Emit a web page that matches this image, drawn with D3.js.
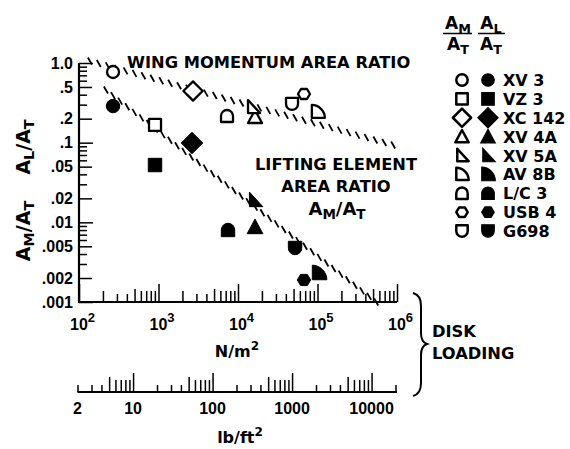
<!DOCTYPE html>
<meta charset="utf-8">
<style>
body { margin: 0; background: #fff; }
text { font-family: "DejaVu Sans", sans-serif; font-weight: bold; fill: #000; }
.num { font-family: "Liberation Sans", Arial, sans-serif; font-weight: bold; font-size: 16px; }
.tick line { stroke: #000; stroke-width: 1.5; }
</style>
<svg width="570" height="449"></svg>
<script src="https://d3js.org/d3.v7.min.js"></script>
<script>

// aircraft, in legend order
var aircraft = ["XV 3", "VZ 3", "XC 142", "XV 4A", "XV 5A", "AV 8B", "L/C 3", "USB 4", "G698"];
var symbols  = ["circle", "square", "diamond", "triangle", "rtriangle", "quarter", "arch", "hexagon", "shield"];

// disk loading (N/m2) and wing momentum area ratio AM/AT  (open symbols)
var loadingM      = [268, 904, 2717, 16370, 15450, 101000, 7274, 67600, 47800];
var momentumRatio = [0.771, 0.167, 0.445, 0.21, 0.28, 0.243, 0.216, 0.408, 0.306];

// disk loading (N/m2) and lifting element area ratio AL/AT  (filled symbols)
var loadingL      = [268, 904, 2638, 16370, 16370, 104500, 7486, 67600, 52200];
var liftingRatio  = [0.288, 0.0524, 0.099, 0.00875, 0.0191, 0.00231, 0.00802, 0.00189, 0.00476];

// dashed trend lines (end points)
var trendMomentumN = [137, 895000];
var trendMomentumR = [1.06, 0.0936];
var trendLiftingN  = [218, 548000];
var trendLiftingR  = [0.458, 0.001];

// tick labels
var yTickValues = [1, 0.5, 0.2, 0.1, 0.05, 0.02, 0.01, 0.005, 0.002, 0.001];
var yTickLabels = ["1.0", ".5", ".2", ".1", ".05", ".02", ".01", ".005", ".002", ".001"];
var xTickValues = [1e2, 1e3, 1e4, 1e5, 1e6];
var xTickExp    = ["2", "3", "4", "5", "6"];
var lbTickValues = [2, 10, 100, 1000, 10000];
var lbPerN = 47.88;   // N/m2 in one lb/ft2

var svg = d3.select("svg");

var x = d3.scaleLog().domain([1e2, 1e6]).range([79, 397]),
    y = d3.scaleLog().domain([0.001, 1]).range([302, 63]),
    xLb = d3.scaleLog().domain([1e2 / lbPerN, 1e6 / lbPerN]).range([79, 397]);

function mant(v) {
  return Math.round(v / Math.pow(10, Math.floor(Math.log10(v) + 1e-9)));
}

// ---- axis ticks, drawn in groups of equal length
function tickGroups(vals, lens, axisFn, scale, transform) {
  var groups = d3.group(vals, function(d) { return lens[mant(d)]; });
  groups.forEach(function(v, len) {
    svg.append("g")
        .attr("transform", transform)
        .call(axisFn(scale).tickValues(v).tickSize(len).tickFormat(""))
        .call(function(g) { g.select(".domain").remove(); });
  });
}

var xLens  = {1: 18, 2: 11, 3: 8, 4: 8, 5: 13, 6: 11, 7: 11, 8: 11, 9: 11};
var yLens  = {1: 14, 2: 13, 3: 8, 4: 8, 5: 13, 6: 8, 7: 8, 8: 8, 9: 8};
var lbLens = {1: 19, 2: 7, 3: 7, 4: 7, 5: 15, 6: 12, 7: 12, 8: 12, 9: 12};

tickGroups(x.ticks(), xLens, d3.axisTop, x, "translate(0,302)");
tickGroups(y.ticks(), yLens, d3.axisRight, y, "translate(79,0)");
tickGroups([2].concat(xLb.ticks()), lbLens, d3.axisTop, xLb, "translate(0,392)");

// axis lines
svg.append("path")
    .attr("d", "M79," + y(1) + "V302H" + x(1e6))
    .attr("fill", "none").attr("stroke", "#000").attr("stroke-width", 2.2);
svg.append("path")
    .attr("d", "M" + xLb(2) + ",392H" + x(1e6))
    .attr("fill", "none").attr("stroke", "#000").attr("stroke-width", 2.2);

// y tick labels
svg.append("g")
    .attr("transform", "translate(79,0)")
    .call(d3.axisLeft(y).tickValues(yTickValues).tickSize(0).tickPadding(6)
      .tickFormat(function(d, i) { return yTickLabels[i]; }))
    .call(function(g) {
      g.select(".domain").remove();
      g.selectAll("text").attr("class", "num").attr("fill", "#000")
        .style("font-family", null).attr("font-family", null).attr("font-size", null);
    });

// x tick labels 10^n
var xl = svg.append("g").selectAll("text")
    .data(xTickValues).enter().append("text")
    .attr("class", "num")
    .attr("x", function(d) { return x(d) - 9; })
    .attr("y", 330)
    .attr("font-size", 17);
xl.append("tspan").text("10");
xl.append("tspan").attr("dy", -8).attr("font-size", 13).text(function(d, i) { return xTickExp[i]; });

// lb/ft2 labels
svg.append("g").selectAll("text")
    .data(lbTickValues).enter().append("text")
    .attr("class", "num")
    .attr("x", function(d) { return xLb(d); })
    .attr("y", 414)
    .attr("text-anchor", "middle")
    .text(function(d) { return d; });

// unit labels
var nm = svg.append("text").attr("x", 237).attr("y", 357).attr("text-anchor", "middle").attr("font-size", 16);
nm.append("tspan").text("N/m");
nm.append("tspan").attr("dy", -7).attr("font-size", 12).text("2");
var lb = svg.append("text").attr("x", 240).attr("y", 443).attr("text-anchor", "middle").attr("font-size", 16);
lb.append("tspan").text("lb/ft");
lb.append("tspan").attr("dy", -7).attr("font-size", 12).text("2");

// subscript helper
function ratio(sel, a, b, size) {
  sel.attr("font-size", size);
  sel.append("tspan").text("A");
  sel.append("tspan").attr("dy", 4).attr("font-size", size * 0.75).text(a);
  if (b) {
    sel.append("tspan").attr("dy", -4).text("/A");
    sel.append("tspan").attr("dy", 4).attr("font-size", size * 0.75).text(b);
  }
}

// rotated y labels
ratio(svg.append("text").attr("transform", "translate(30,147) rotate(-90)").attr("text-anchor", "middle"), "L", "T", 19);
ratio(svg.append("text").attr("transform", "translate(30,231) rotate(-90)").attr("text-anchor", "middle"), "M", "T", 19);

// annotations
svg.append("text").attr("x", 127).attr("y", 68).attr("font-size", 16.3).text("WING MOMENTUM AREA RATIO");
svg.append("text").attr("x", 336).attr("y", 170).attr("font-size", 16.3).attr("text-anchor", "middle").text("LIFTING ELEMENT");
svg.append("text").attr("x", 336).attr("y", 192).attr("font-size", 16.3).attr("text-anchor", "middle").text("AREA RATIO");
ratio(svg.append("text").attr("x", 337).attr("y", 215).attr("text-anchor", "middle"), "M", "T", 18);

svg.append("text").attr("x", 432).attr("y", 337).attr("font-size", 16.3).text("DISK");
svg.append("text").attr("x", 432).attr("y", 359).attr("font-size", 16.3).text("LOADING");

// brace
svg.append("path")
    .attr("d", "M413,293 Q421,295 421,306 L421,333 Q421,342 427,344 Q421,346 421,355 L421,383 Q421,394 413,396")
    .attr("fill", "none").attr("stroke", "#000").attr("stroke-width", 2);

// ---- hatched trend lines
function hatch(ns, rs) {
  var x0 = x(ns[0]), y0 = y(rs[0]), x1 = x(ns[1]), y1 = y(rs[1]);
  var len = Math.hypot(x1 - x0, y1 - y0), n = Math.floor(len / 9);
  var pts = d3.range(n + 1).map(function(i) {
    var t = i / n;
    return [x0 + (x1 - x0) * t, y0 + (y1 - y0) * t];
  });
  svg.append("g").selectAll("line").data(pts).enter().append("line")
      .attr("x1", function(d) { return d[0] - 2; })
      .attr("y1", function(d) { return d[1] - 3.5; })
      .attr("x2", function(d) { return d[0] + 2; })
      .attr("y2", function(d) { return d[1] + 3.5; })
      .attr("stroke", "#000").attr("stroke-width", 1.8);
}
hatch(trendMomentumN, trendMomentumR);
hatch(trendLiftingN, trendLiftingR);

// ---- symbols
var shapes = {
  circle:    "M6,0A6,6 0 1,1 -6,0A6,6 0 1,1 6,0Z",
  square:    "M-6,-6H6V6H-6Z",
  diamond:   "M0,-8L8,0L0,8L-8,0Z",
  triangle:  "M0,-7L7,6L-7,6Z",
  rtriangle: "M-5,-7L7,6L-5,6Z",
  quarter:   "M-6,-7L-6,6L7,6C7,-1 1,-7 -6,-7Z",
  arch:      "M-6,6L-6,0A6,6 0 0,1 6,0L6,6Z",
  hexagon:   "M-6,0L-3,-5L3,-5L6,0L3,5L-3,5Z",
  shield:    "M-6,-6L6,-6L6,0A6,6 0 0,1 -6,0Z"
};
var bigger = {diamond: 1.2};

function marks(xs, ys, filled) {
  svg.append("g").selectAll("path").data(aircraft).enter().append("path")
      .attr("d", function(d, i) { return shapes[symbols[i]]; })
      .attr("transform", function(d, i) {
        var k = (bigger[symbols[i]] || 1) * (filled ? 1.12 : 1);
        return "translate(" + x(xs[i]) + "," + y(ys[i]) + ") scale(" + k + ")";
      })
      .attr("vector-effect", "non-scaling-stroke")
      .attr("fill", filled ? "#000" : "#fff")
      .attr("stroke", "#000")
      .attr("stroke-width", filled ? 1 : 2.3)
      .attr("stroke-linejoin", "round");
}
marks(loadingM, momentumRatio, false);
marks(loadingL, liftingRatio, true);

// ---- legend
ratio(svg.append("text").attr("x", 458).attr("y", 29).attr("text-anchor", "middle"), "M", null, 17);
ratio(svg.append("text").attr("x", 491).attr("y", 29).attr("text-anchor", "middle"), "L", null, 17);
ratio(svg.append("text").attr("x", 458).attr("y", 50).attr("text-anchor", "middle"), "T", null, 17);
ratio(svg.append("text").attr("x", 491).attr("y", 50).attr("text-anchor", "middle"), "T", null, 17);
svg.append("path").attr("d", "M443,33.5H472M478,33.5H505").attr("stroke", "#000").attr("stroke-width", 1.6);

var row = d3.scaleLinear().domain([0, 8]).range([80, 231]);
var lg = svg.append("g").selectAll("g").data(aircraft).enter().append("g")
    .attr("transform", function(d, i) { return "translate(0," + row(i) + ")"; });
lg.append("path")
    .attr("d", function(d, i) { return shapes[symbols[i]]; })
    .attr("transform", function(d, i) { return "translate(462,0) scale(" + (bigger[symbols[i]] || 1) * 0.95 + ")"; })
    .attr("vector-effect", "non-scaling-stroke")
    .attr("fill", "#fff").attr("stroke", "#000").attr("stroke-width", 2.5).attr("stroke-linejoin", "round");
lg.append("path")
    .attr("d", function(d, i) { return shapes[symbols[i]]; })
    .attr("transform", function(d, i) { return "translate(488,0) scale(" + (bigger[symbols[i]] || 1) * 1.05 + ")"; })
    .attr("fill", "#000").attr("stroke", "#000").attr("stroke-width", 1);
lg.append("text")
    .attr("x", 503).attr("y", 6).attr("font-size", 16)
    .text(function(d) { return d; });

</script>
